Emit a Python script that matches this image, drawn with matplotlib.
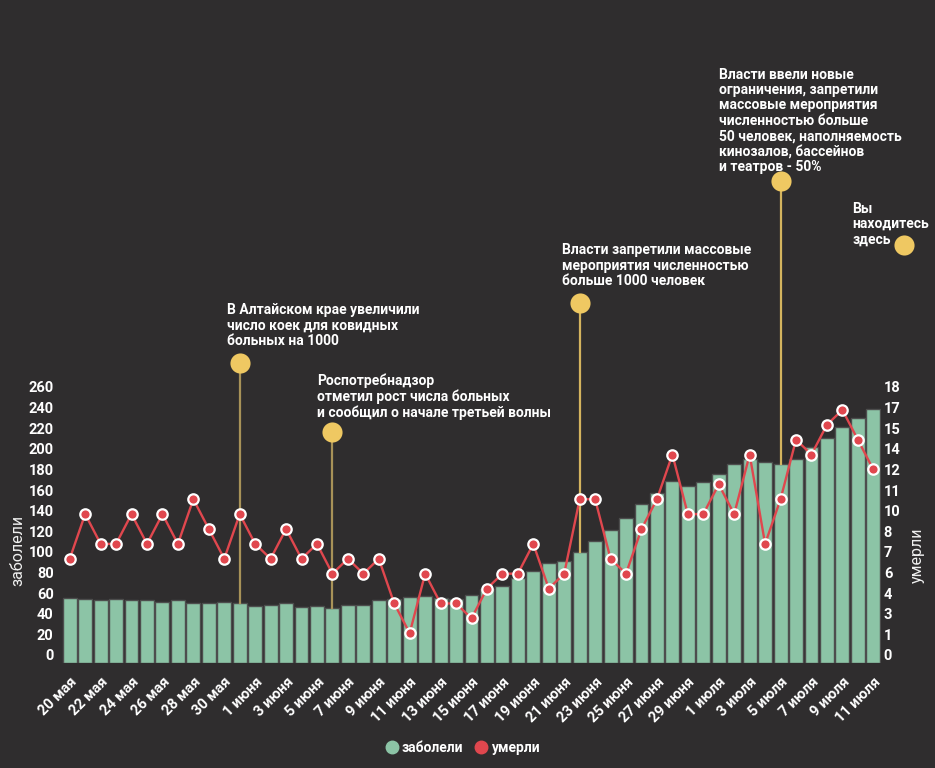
import numpy as np
import pandas as pd
import matplotlib
matplotlib.use('Agg')
import matplotlib.pyplot as plt
from matplotlib.lines import Line2D
from matplotlib.transforms import ScaledTranslation

plt.rcParams['font.family'] = ['Roboto', 'DejaVu Sans']

# daily data, 20 May - 11 July
days = pd.date_range('2021-05-20', '2021-07-11')
months = {5: 'мая', 6: 'июня', 7: 'июля'}
day_labels = ['%d %s' % (d.day, months[d.month]) for d in days]

cases = [63, 62, 61, 62, 61, 61, 59, 61, 58, 58, 59, 58, 55, 56, 58, 54,
         55, 53, 56, 56, 61, 62, 64, 65, 63, 62, 66, 72, 75, 82, 89, 97,
         99, 108, 118, 129, 141, 154, 165, 177, 172, 176, 183, 193, 198, 195, 193,
         198, 210, 218, 229, 238, 246]
deaths = [7, 10, 8, 8, 10, 8, 10, 8, 11, 9, 7, 10, 8, 7, 9, 7,
          8, 6, 7, 6, 7, 4, 2, 6, 4, 4, 3, 5, 6, 6, 8, 5,
          6, 11, 11, 7, 6, 9, 11, 14, 10, 10, 12, 10, 14, 8, 11,
          15, 14, 16, 17, 15, 13]

left_ticks = list(range(0, 261, 20))
right_ticks = np.linspace(0, 18, 14)

# events: day index, text
events = [
    (11, 'В Алтайском крае увеличили\nчисло коек для ковидных\nбольных на 1000'),
    (17, 'Роспотребнадзор\nотметил рост числа больных\nи сообщил о начале третьей волны'),
    (33, 'Власти запретили массовые\nмероприятия численностью\nбольше 1000 человек'),
    (46, 'Власти ввели новые\nограничения, запретили\nмассовые мероприятия\nчисленностью больше\n'
         '50 человек, наполняемость\nкинозалов, бассейнов\nи театров - 50%'),
    (54, 'Вы\nнаходитесь\nздесь'),
]
# circle height (left axis units), text offset in px (dx, dy from circle to text top-left)
event_pos = [(291, -13, 60), (224, -15, 59), (349, -18, 60), (468, -62, 113), (406, -52, 43)]
event_line = ['#a89258', '#a89258', '#d4b45e', '#d4b45e', None]

bg = '#2f2d2e'
green = '#8cc4a6'
red = '#e0474e'
yellow = '#efc862'

W, H = 935, 768
fig = plt.figure(figsize=(W / 100, H / 100), dpi=100, facecolor=bg)
ax = fig.add_axes([62 / W, (H - 663) / H, 819 / W, 268 / H])
ax.set_facecolor(bg)

x = np.arange(len(cases))
ax.bar(x, cases, width=0.9, color=green, edgecolor='#4d4d4d', linewidth=1, zorder=2)
ax.set_xlim(-0.5, len(cases) - 0.5)
ax.set_ylim(0, 260)
ax.set_yticks(left_ticks)
ax.set_yticklabels([str(t) for t in left_ticks])
ax.set_xticks(x[::2])
ax.set_xticklabels(day_labels[::2], rotation=45, ha='right', va='center',
                   rotation_mode='anchor')
for s in ax.spines.values():
    s.set_visible(False)
ax.tick_params(axis='y', length=0, pad=6, labelcolor='white', labelsize=10.5)
ax.tick_params(axis='x', length=0, pad=12, labelcolor='white', labelsize=10.5)
for lab in ax.get_yticklabels() + ax.get_xticklabels():
    lab.set_fontweight('bold')
up = ScaledTranslation(0, 8 / 100, fig.dpi_scale_trans)
for t in ax.yaxis.get_major_ticks():
    t.label1.set_transform(t.label1.get_transform() + up)
shift = ScaledTranslation(5 / 100, 0, fig.dpi_scale_trans)
for t in ax.xaxis.get_major_ticks():
    t.label1.set_transform(t.label1.get_transform() + shift)

ax2 = ax.twinx()
ax2.set_ylim(0, 18)
ax2.plot(x, deaths, color=red, lw=1.7, marker='o', markersize=7.5,
         markerfacecolor=red, markeredgecolor='white', markeredgewidth=1.6, zorder=5)
ax2.set_yticks(right_ticks)
ax2.set_yticklabels([str(int(round(v))) for v in right_ticks])
for s in ax2.spines.values():
    s.set_visible(False)
ax2.tick_params(axis='y', length=0, pad=2, labelcolor='white', labelsize=10.5)
for t in ax2.yaxis.get_major_ticks():
    t.label2.set_transform(t.label2.get_transform() + up)
    t.label2.set_fontweight('bold')

# event markers
for (i, txt), (h, dx, dy), lc in zip(events, event_pos, event_line):
    if lc is not None:
        ax.plot([i, i], [cases[i], h], color=lc, lw=1.6, zorder=3, clip_on=False)
    ax.scatter([i], [h], s=210, color=yellow, zorder=6, clip_on=False, linewidths=0)
    cx, cy = ax.transData.transform((i, h))
    fig.text((cx + dx) / W, (cy + dy) / H, txt, color='white', fontsize=10,
             fontweight='bold', ha='left', va='top', linespacing=1.13)

fig.text(18 / W, (H - 550) / H, 'заболели', rotation=90, color='#f0f0f0',
         fontsize=11.5, ha='center', va='center')
fig.text(917 / W, (H - 555) / H, 'умерли', rotation=90, color='#f0f0f0',
         fontsize=11.5, ha='center', va='center')

handles = [Line2D([], [], ls='none', marker='o', markersize=9, color=green),
           Line2D([], [], ls='none', marker='o', markersize=9, color=red)]
leg = fig.legend(handles, ['заболели', 'умерли'], loc='center',
                 bbox_to_anchor=(462 / W, (H - 748) / H), ncol=2, frameon=False,
                 handletextpad=0.2, columnspacing=0.8, handlelength=1.0,
                 prop={'weight': 'bold', 'size': 10})
for t in leg.get_texts():
    t.set_color('white')

fig.savefig('out.png', dpi=100, facecolor=bg)
